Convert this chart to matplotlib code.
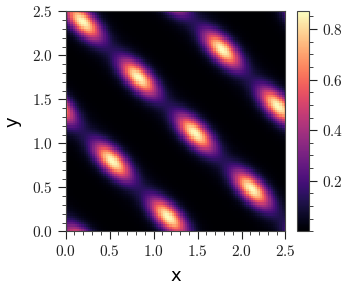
import numpy as np
import matplotlib
matplotlib.use("Agg")
import matplotlib.pyplot as plt
from matplotlib.ticker import MultipleLocator

plt.rcParams['font.family'] = 'serif'
plt.rcParams['font.serif'] = ['cmr10']
plt.rcParams['axes.formatter.use_mathtext'] = True

# Blob centres (including ones just outside the frame)
blob_x = [0.52, 1.47, 2.42, 0.82, 1.78, 1.14, -0.44, 0.20, 1.16, -0.13, 0.18, 2.12, 2.78, 2.75]
blob_y = [0.79, 1.11, 1.42, 1.75, 2.07, 2.71, 0.48, -0.17, 0.15, 1.44, 2.39, 0.47, -0.20, 2.37]
blob_peak = [0.87] * 14
sigma_along = 0.19   # along the (1,-1) diagonal
sigma_perp = 0.085   # along the (1,1) diagonal
halo_weight = 0.07
halo_scale = 1.7

x_grid = np.linspace(0, 2.5, 100)
y_grid = np.linspace(0, 2.5, 100)
X, Y = np.meshgrid(x_grid, y_grid)
Z = np.zeros_like(X)
for bx, by, bp in zip(blob_x, blob_y, blob_peak):
    dx, dy = X - bx, Y - by
    u = (dx - dy) / np.sqrt(2)
    v = (dx + dy) / np.sqrt(2)
    r2 = u**2 / (2 * sigma_along**2) + v**2 / (2 * sigma_perp**2)
    Z += bp * ((1 - halo_weight) * np.exp(-r2) + halo_weight * np.exp(-r2 / halo_scale**2))

fig = plt.figure(figsize=(3.49, 2.91), dpi=100)
ax = fig.add_axes([0.188, 0.205, 0.630, 0.756])
cax = fig.add_axes([0.852, 0.205, 0.034, 0.756])

im = ax.imshow(Z, origin='lower', extent=[0, 2.5, 0, 2.5], cmap='magma',
               vmin=0.0, vmax=0.87, interpolation='nearest', aspect='auto')
ax.set_xlim(0, 2.5)
ax.set_ylim(0, 2.5)
ax.xaxis.set_major_locator(MultipleLocator(0.5))
ax.yaxis.set_major_locator(MultipleLocator(0.5))
ax.xaxis.set_minor_locator(MultipleLocator(0.1))
ax.yaxis.set_minor_locator(MultipleLocator(0.1))
ax.tick_params(which='major', length=5.5, width=0.8, labelsize=11, colors='#222222', labelcolor='#222222')
ax.tick_params(which='minor', length=3, width=0.6, colors='#222222')
for s in ax.spines.values():
    s.set_color('#444444')
ax.set_xlabel('x', fontsize=13, family='DejaVu Sans', labelpad=6)
ax.set_ylabel('y', fontsize=13, family='DejaVu Sans', labelpad=8)

cb = fig.colorbar(im, cax=cax)
cb.set_ticks([0.2, 0.4, 0.6, 0.8])
cax.yaxis.set_minor_locator(MultipleLocator(0.05))
cax.tick_params(which='major', length=5.5, width=0.8, labelsize=11, colors='#222222')
cax.tick_params(which='minor', length=3, width=0.6, colors='#222222')
cb.outline.set_edgecolor('#444444')

fig.savefig('out.png', dpi=100)
